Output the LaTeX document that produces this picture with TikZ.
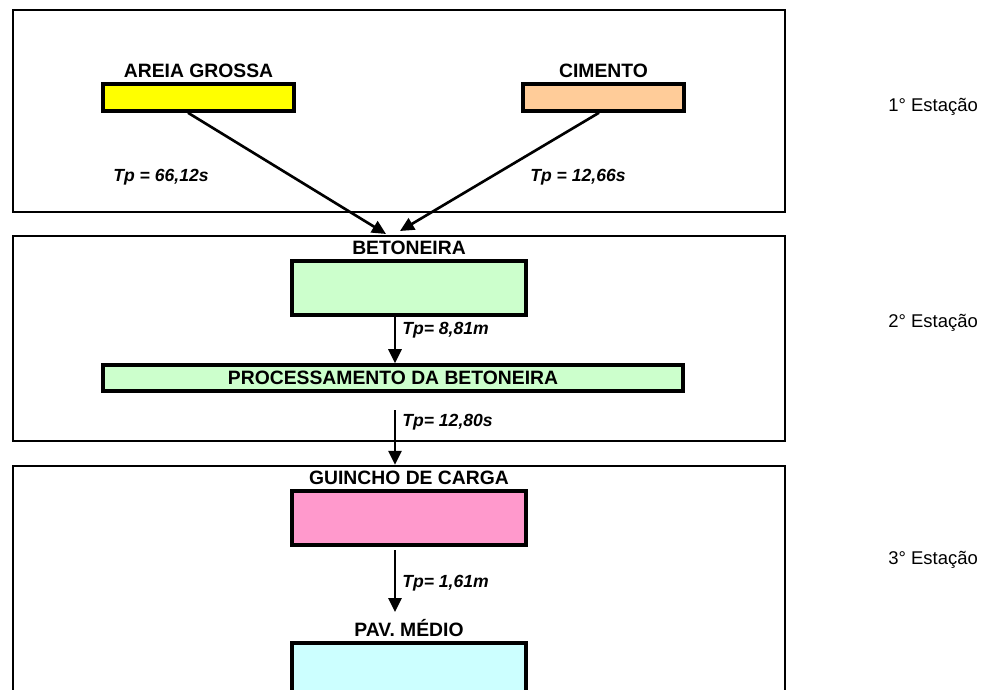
\documentclass[tikz,border=0pt]{standalone}
\usepackage{fontspec}
\setmainfont{Liberation Sans}
\usepackage{xcolor}
\usetikzlibrary{arrows.meta, positioning}
\definecolor{areiaYellow}{HTML}{FFFF00}
\definecolor{cimentoOrange}{HTML}{FFCC99}
\definecolor{betGreen}{HTML}{CCFFCC}
\definecolor{guinchoPink}{HTML}{FF99CC}
\definecolor{pavCyan}{HTML}{CCFFFF}

\begin{document}
\begin{tikzpicture}[
  frame/.style={draw, line width=1.3pt, minimum width=15.44cm, inner sep=0pt},
  box/.style={draw, line width=2pt, inner sep=0pt},
  lbl/.style={font=\fontsize{11}{13}\selectfont\bfseries, inner sep=1.5pt},
  tp/.style={font=\fontsize{10}{12}\selectfont\bfseries\itshape, anchor=west, inner sep=0pt},
  est/.style={font=\fontsize{10.5}{12}\selectfont, anchor=west, inner sep=0pt},
  flow/.style={-{Triangle[length=2.8mm,width=2.6mm]}, line width=1.5pt}
]
  \useasboundingbox (0,0) rectangle (19.92,-13.8);
  \clip (0,0) rectangle (19.92,-13.8);

  \node[frame, minimum height=4.04cm] (st1) at (7.98,-2.22) {};
  \node[frame, minimum height=4.1cm] (st2) at (7.98,-6.77) {};
  \node[frame, minimum height=5.08cm] (st3) at (7.98,-11.86) {};

  \node[box, fill=areiaYellow, minimum width=3.82cm, minimum height=0.54cm] (areia) at (3.97,-1.95) {};
  \node[lbl, above=1pt of areia] (areiaLbl) {AREIA GROSSA};
  \node[box, fill=cimentoOrange, minimum width=3.22cm, minimum height=0.54cm] (cimento) at (12.07,-1.95) {};
  \node[lbl, above=1pt of cimento] (cimentoLbl) {CIMENTO};

  \node[box, fill=betGreen, minimum width=4.68cm, minimum height=1.08cm] (bet) at (8.18,-5.76) {};
  \node[lbl, above=1pt of bet] (betLbl) {BETONEIRA};
  \node[box, fill=betGreen, minimum width=11.6cm, minimum height=0.52cm, font=\fontsize{11}{13}\selectfont\bfseries] (proc) at (7.86,-7.56) {PROCESSAMENTO DA BETONEIRA};

  \node[box, fill=guinchoPink, minimum width=4.68cm, minimum height=1.08cm] (guincho) at (8.18,-10.36) {};
  \node[lbl, above=1pt of guincho] (guinchoLbl) {GUINCHO DE CARGA};
  \node[box, fill=pavCyan, minimum width=4.68cm, minimum height=1.08cm] (pav) at (8.18,-13.4) {};
  \node[lbl, above=1pt of pav] (pavLbl) {PAV. MÉDIO};

  \coordinate (arrx) at (7.9,0);
  \coordinate (in1) at (7.72,-4.68);
  \coordinate (in2) at (8.0,-4.62);
  \coordinate (out1) at (7.9,-6.34);
  \coordinate (out2) at (7.9,-8.2);
  \coordinate (out3) at (7.9,-11.0);
  \coordinate (in4) at (7.9,-12.24);

  \draw[flow] ([xshift=-0.21cm]areia.south) -- (in1);
  \draw[flow] ([xshift=-0.09cm]cimento.south) -- (in2);
  \draw[flow] (out1) -- (proc.north -| arrx);
  \draw[flow] (out2) -- (st3.north -| arrx);
  \draw[flow] (out3) -- (in4);

  \node[tp] (tpAreia) at (2.26,-3.54) {Tp = 66,12s};
  \node[tp] (tpCimento) at (10.6,-3.54) {Tp = 12,66s};
  \node[tp] (tpBet) at (8.04,-6.6) {Tp= 8,81m};
  \node[tp] (tpProc) at (8.04,-8.44) {Tp= 12,80s};
  \node[tp] (tpGuincho) at (8.04,-11.66) {Tp= 1,61m};

  \node[est] (est1) at (17.76,-2.14) {1° Estação};
  \node[est] (est2) at (17.76,-6.46) {2° Estação};
  \node[est] (est3) at (17.76,-11.2) {3° Estação};
\end{tikzpicture}
\end{document}
